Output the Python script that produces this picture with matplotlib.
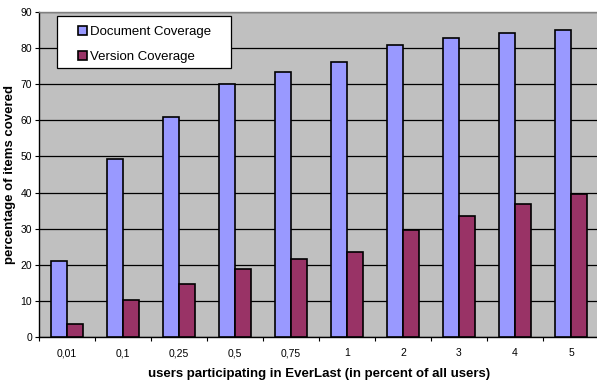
import numpy as np
import matplotlib.pyplot as plt
from matplotlib.patches import Rectangle

plt.rcParams['font.family'] = ['Liberation Sans', 'DejaVu Sans']

# Coverage per share of participating users
categories = ['0,01', '0,1', '0,25', '0,5', '0,75', '1', '2', '3', '4', '5']
document_coverage = [21.0, 49.2, 61.0, 70.0, 73.5, 76.2, 80.9, 82.9, 84.3, 85.1]
version_coverage = [3.5, 10.3, 14.6, 18.7, 21.5, 23.6, 29.5, 33.6, 36.8, 39.5]

W, H = 597, 382
fig = plt.figure(figsize=(W / 100, H / 100), dpi=100)
ax = fig.add_axes([39 / W, 45 / H, 560 / W, 325 / H])
ax.set_facecolor('#c0c0c0')

x = np.arange(len(categories))
w = 0.286
ax.bar(x - w / 2, document_coverage, w, color='#9999ff', edgecolor='black',
       linewidth=1.2, label='Document Coverage', zorder=3)
ax.bar(x + w / 2, version_coverage, w, color='#993366', edgecolor='black',
       linewidth=1.2, label='Version Coverage', zorder=3)

ax.set_xlim(-0.5, len(categories) - 0.5)
ax.set_ylim(0, 90)
ax.set_yticks(range(0, 91, 10))
ax.yaxis.grid(True, color='black', linewidth=0.9, zorder=1)
ax.set_axisbelow(True)

ax.set_xticks(x)
ax.set_xticklabels(categories)
ax.set_xticks(np.arange(-0.5, len(categories), 1), minor=True)
ax.tick_params(axis='x', which='major', length=0, labelsize=7.5, pad=8)
ax.tick_params(axis='x', which='minor', length=3, direction='out', width=0.8)
ax.tick_params(axis='y', length=3, width=0.8, labelsize=7.5, pad=2)

for side in ['top', 'right']:
    ax.spines[side].set_visible(False)
ax.spines['left'].set_linewidth(1.0)
ax.spines['bottom'].set_linewidth(1.0)
ax.axhline(90, color='#808080', linewidth=1.0, zorder=4, clip_on=False)

ax.set_xlabel('users participating in EverLast (in percent of all users)',
              fontsize=9.5, fontweight='bold', labelpad=7)
ax.set_ylabel('percentage of items covered', fontsize=9.5, fontweight='bold', labelpad=3)

# legend box with white background and black border
box = Rectangle((57 / W, 1 - 68 / H), 174 / W, 52 / H, transform=fig.transFigure,
                facecolor='white', edgecolor='black', linewidth=0.9, zorder=5)
fig.patches.append(box)
leg = fig.legend(loc='upper left', bbox_to_anchor=(78 / W, 1 - 26 / H), fontsize=9.5,
                 frameon=False, handlelength=0.7, handleheight=0.7, handletextpad=0.2,
                 borderpad=0, labelspacing=0.95, borderaxespad=0)
leg.set_zorder(6)

fig.savefig('out.png', dpi=100)
